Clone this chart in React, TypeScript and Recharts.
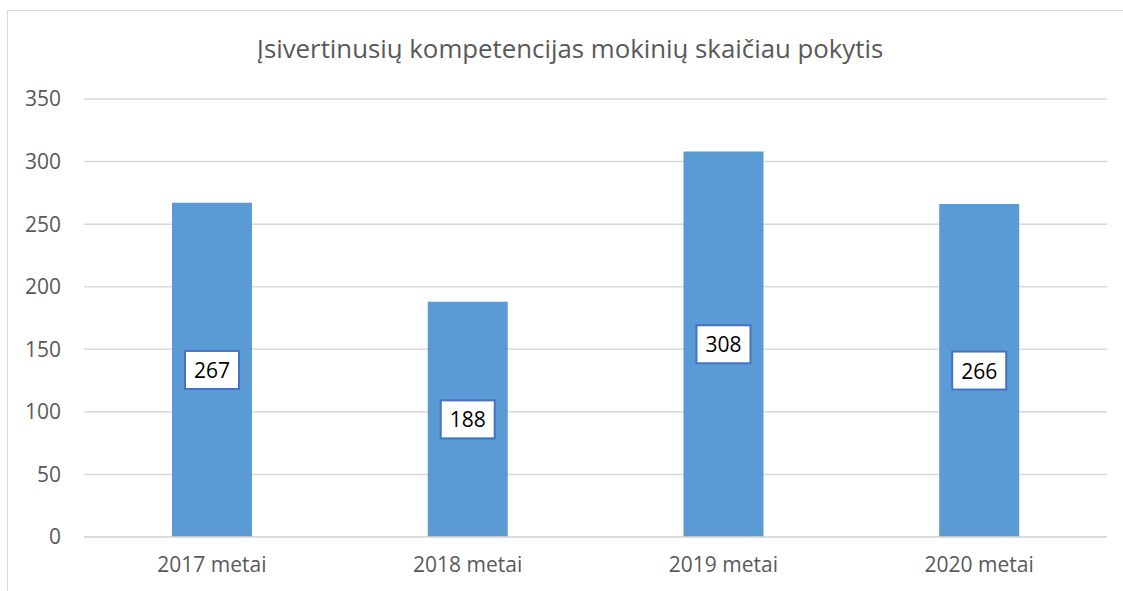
import { BarChart, Bar, XAxis, YAxis, CartesianGrid, LabelList } from 'recharts';

const years = ['2017 metai', '2018 metai', '2019 metai', '2020 metai'];
const students = [267, 188, 308, 266];
const yTicks = [0, 50, 100, 150, 200, 250, 300, 350];

const data = years.map((year, i) => ({ year, students: students[i] }));

const FONT = '"Open Sans", Calibri, sans-serif';

function BoxLabel(props: any) {
    const { x, y, width, height, value } = props;
    const cx = x + width / 2;
    const cy = y + height / 2;
    const w = 54;
    const h = 38;
    return (
        <g>
            <rect
                x={cx - w / 2}
                y={cy - h / 2}
                width={w}
                height={h}
                fill="#ffffff"
                stroke="#4472c4"
                strokeWidth={2}
            />
            <text
                x={cx}
                y={cy}
                textAnchor="middle"
                dominantBaseline="central"
                fontFamily={FONT}
                fontSize={21}
                fill="#000000"
            >
                {value}
            </text>
        </g>
    );
}

export default function App() {
    return (
        <div style={{ position: 'fixed', left: 0, top: 0, width: 1123, height: 591, background: '#fff' }}>
            <div
                style={{
                    position: 'absolute',
                    left: 7,
                    top: 10,
                    width: 1200,
                    height: 700,
                    border: '1px solid #d9d9d9',
                }}
            />
            <div
                style={{
                    position: 'absolute',
                    left: 0,
                    top: 30,
                    width: 1140,
                    textAlign: 'center',
                    fontFamily: FONT,
                    fontSize: 25.8,
                    color: '#595959',
                    whiteSpace: 'nowrap',
                }}
            >
                Įsivertinusių kompetencijas mokinių skaičiau pokytis
            </div>
            <div style={{ position: 'absolute', left: 0, top: 0 }}>
                <BarChart
                    width={1123}
                    height={591}
                    data={data}
                    margin={{ top: 99, right: 16, left: 0, bottom: 24 }}
                    barCategoryGap="34.4%"
                >
                    <CartesianGrid vertical={false} stroke="#d9d9d9" strokeWidth={1.5} />
                    <XAxis
                        dataKey="year"
                        height={30}
                        tickSize={0}
                        tickMargin={20}
                        axisLine={{ stroke: '#d9d9d9', strokeWidth: 1.5 }}
                        tick={{ fill: '#595959', fontSize: 21, fontFamily: FONT }}
                    />
                    <YAxis
                        width={84}
                        domain={[0, 350]}
                        ticks={yTicks}
                        tickSize={0}
                        tickMargin={23}
                        axisLine={false}
                        tick={{ fill: '#595959', fontSize: 21, fontFamily: FONT }}
                    />
                    <Bar dataKey="students" fill="#5b9bd5" isAnimationActive={false}>
                        <LabelList dataKey="students" content={BoxLabel} />
                    </Bar>
                </BarChart>
            </div>
        </div>
    );
}
